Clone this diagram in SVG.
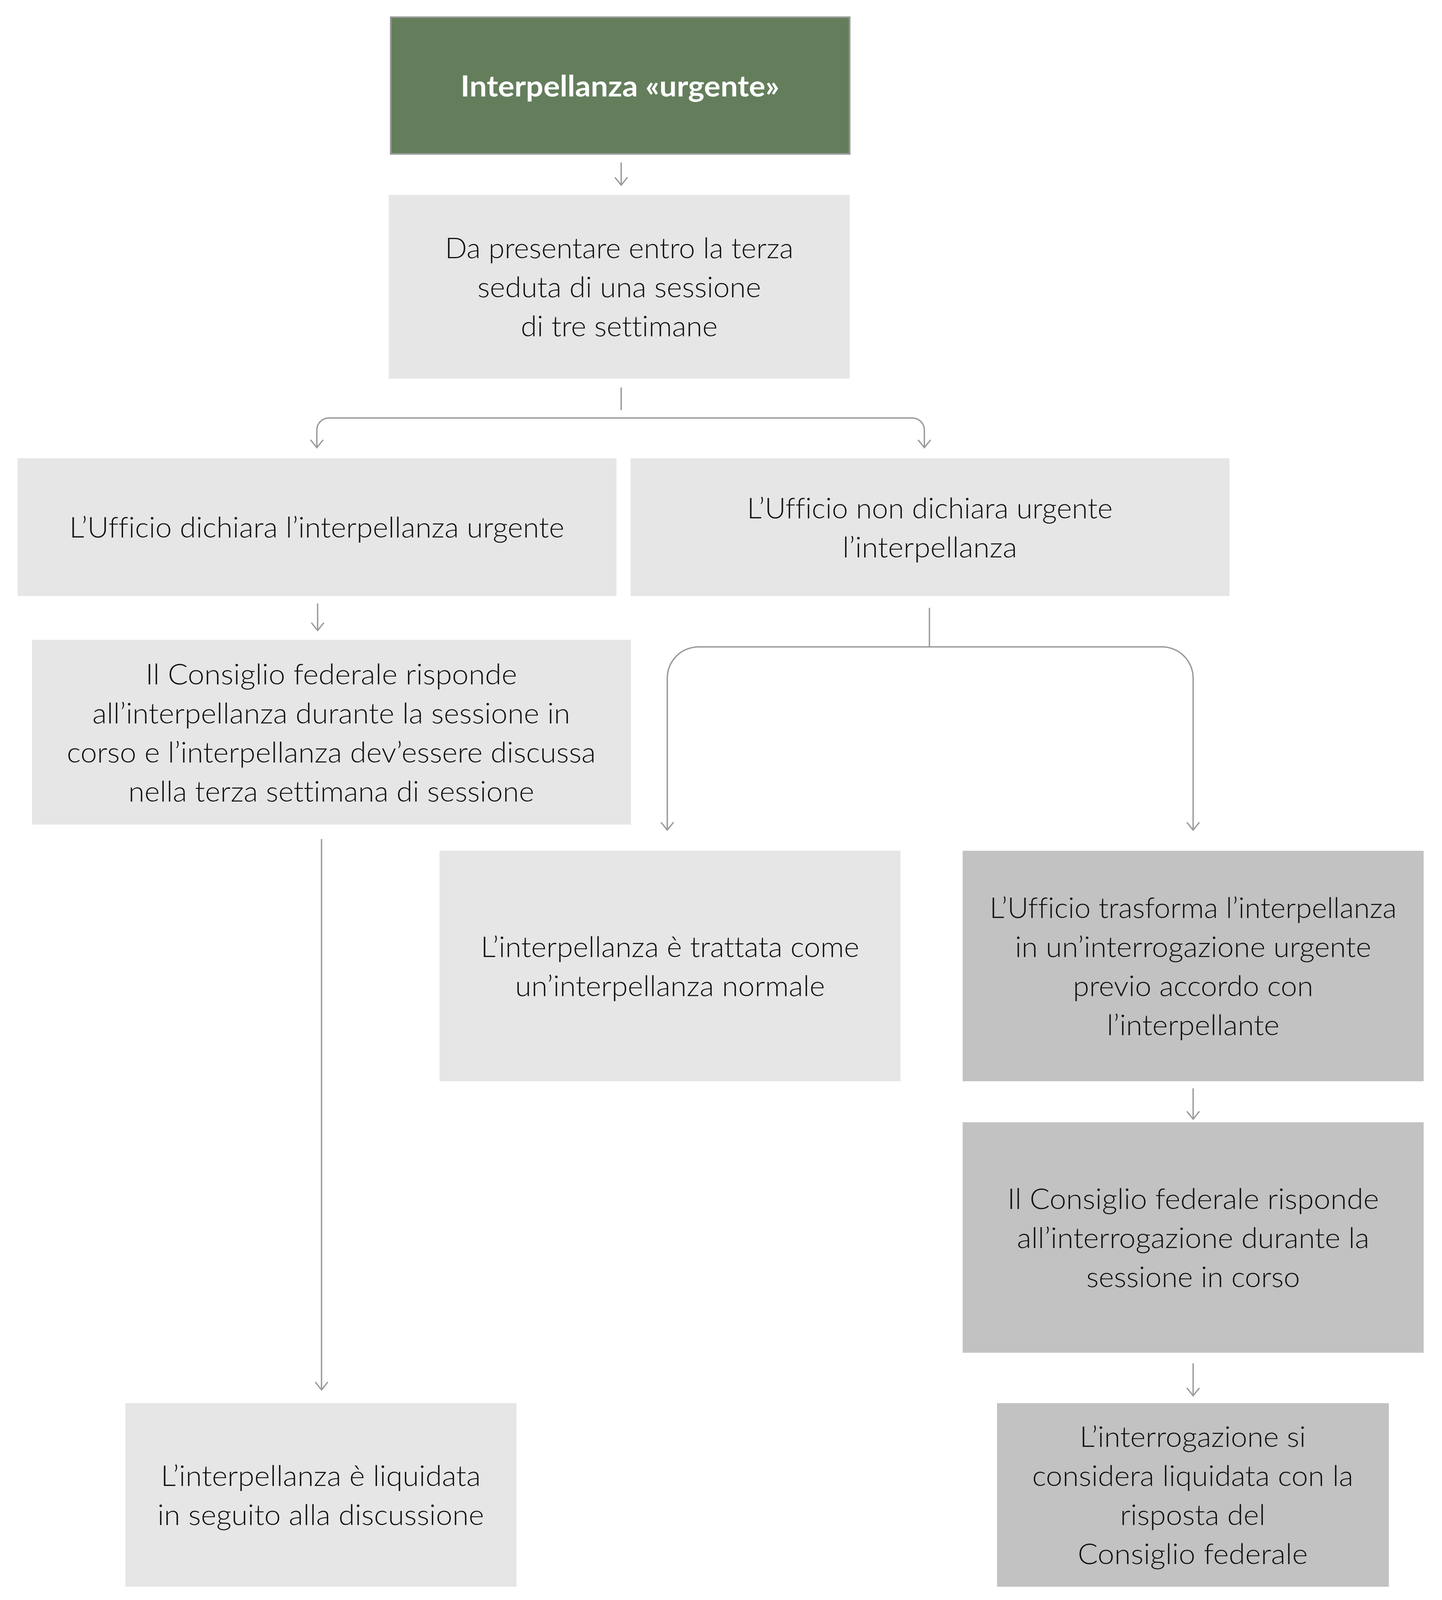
<svg xmlns="http://www.w3.org/2000/svg" width="3691" height="4099" viewBox="0 0 3691 4099">
<defs>
<style>
.t{font-family:Lato,"Noto Sans","Liberation Sans",sans-serif;font-size:72px;font-weight:300;fill:#111;text-anchor:middle;font-variant-ligatures:none}
.b{font-family:Lato,"Noto Sans","Liberation Sans",sans-serif;font-size:74px;font-weight:bold;fill:#fff;text-anchor:middle}
.lt{fill:#e6e6e6}
.dk{fill:#c2c2c2}
.c{fill:none;stroke:#9a9a9a;stroke-width:3.5}
</style>
<marker id="ah" markerUnits="userSpaceOnUse" markerWidth="50" markerHeight="50" viewBox="-25 -25 50 50" refX="0" refY="0" orient="auto">
<path d="M-20,-16 L0,0 L-20,16" fill="none" stroke="#9a9a9a" stroke-width="3.5"/>
</marker>
</defs>
<rect width="3691" height="4099" fill="#fff"/>
<g id="connectors">
<path class="c" d="M1590 416 V474" marker-end="url(#ah)"/>
<path class="c" d="M1590 992 V1050"/>
<path class="c" d="M1590 1070 H842 A31 31 0 0 0 811 1101 V1146" marker-end="url(#ah)"/>
<path class="c" d="M1590 1070 H2335 A31 31 0 0 1 2366 1101 V1146" marker-end="url(#ah)"/>
<path class="c" d="M813 1545 V1614" marker-end="url(#ah)"/>
<path class="c" d="M2379 1556 V1656"/>
<path class="c" d="M2379 1656 H1788 A80 80 0 0 0 1708 1736 V2125" marker-end="url(#ah)"/>
<path class="c" d="M2379 1656 H2974 A80 80 0 0 1 3054 1736 V2125" marker-end="url(#ah)"/>
<path class="c" d="M823 2148 V3558" marker-end="url(#ah)"/>
<path class="c" d="M3054 2786 V2865" marker-end="url(#ah)"/>
<path class="c" d="M3054 3490 V3573" marker-end="url(#ah)"/>
</g>
<g id="n1">
<rect x="1000" y="44" width="1175" height="350" fill="#647e5c" stroke="#9a9a9a" stroke-width="4"/>
<text class="b" x="1587" y="247" textLength="816" lengthAdjust="spacingAndGlyphs">Interpellanza «urgente»</text>
</g>
<g id="n2">
<rect class="lt" x="995" y="499" width="1180" height="470"/>
<text class="t" x="1585" y="661" textLength="892" lengthAdjust="spacingAndGlyphs">Da presentare entro la terza</text>
<text class="t" x="1585" y="761" textLength="726" lengthAdjust="spacingAndGlyphs">seduta di una sessione</text>
<text class="t" x="1585" y="861" textLength="504" lengthAdjust="spacingAndGlyphs">di tre settimane</text>
</g>
<g id="n3">
<rect class="lt" x="45" y="1173" width="1533" height="353"/>
<text class="t" x="811" y="1376" textLength="1267" lengthAdjust="spacingAndGlyphs">L’Ufficio dichiara l’interpellanza urgente</text>
</g>
<g id="n4">
<rect class="lt" x="1614" y="1173" width="1533" height="353"/>
<text class="t" x="2380" y="1327" textLength="936" lengthAdjust="spacingAndGlyphs">L’Ufficio non dichiara urgente</text>
<text class="t" x="2380" y="1427" textLength="447" lengthAdjust="spacingAndGlyphs">l’interpellanza</text>
</g>
<g id="n5">
<rect class="lt" x="82" y="1638" width="1533" height="473"/>
<text class="t" x="848" y="1752" textLength="951" lengthAdjust="spacingAndGlyphs">Il Consiglio federale risponde</text>
<text class="t" x="848" y="1852" textLength="1223" lengthAdjust="spacingAndGlyphs">all’interpellanza durante la sessione in</text>
<text class="t" x="848" y="1952" textLength="1354" lengthAdjust="spacingAndGlyphs">corso e l’interpellanza dev’essere discussa</text>
<text class="t" x="848" y="2052" textLength="1039" lengthAdjust="spacingAndGlyphs">nella terza settimana di sessione</text>
</g>
<g id="n6">
<rect class="lt" x="1125" y="2178" width="1180" height="590"/>
<text class="t" x="1715" y="2450" textLength="969" lengthAdjust="spacingAndGlyphs">L’interpellanza è trattata come</text>
<text class="t" x="1715" y="2550" textLength="793" lengthAdjust="spacingAndGlyphs">un’interpellanza normale</text>
</g>
<g id="n7">
<rect class="dk" x="2464" y="2178" width="1180" height="590"/>
<text class="t" x="3054" y="2350" textLength="1042" lengthAdjust="spacingAndGlyphs">L’Ufficio trasforma l’interpellanza</text>
<text class="t" x="3054" y="2450" textLength="912" lengthAdjust="spacingAndGlyphs">in un’interrogazione urgente</text>
<text class="t" x="3054" y="2550" textLength="615" lengthAdjust="spacingAndGlyphs">previo accordo con</text>
<text class="t" x="3054" y="2650" textLength="442" lengthAdjust="spacingAndGlyphs">l’interpellante</text>
</g>
<g id="n8">
<rect class="dk" x="2464" y="2873" width="1180" height="590"/>
<text class="t" x="3054" y="3095" textLength="951" lengthAdjust="spacingAndGlyphs">Il Consiglio federale risponde</text>
<text class="t" x="3054" y="3195" textLength="902" lengthAdjust="spacingAndGlyphs">all’interrogazione durante la</text>
<text class="t" x="3054" y="3295" textLength="547" lengthAdjust="spacingAndGlyphs">sessione in corso</text>
</g>
<g id="n9">
<rect class="dk" x="2552" y="3592" width="1003" height="470"/>
<text class="t" x="3053" y="3704" textLength="579" lengthAdjust="spacingAndGlyphs">L’interrogazione si</text>
<text class="t" x="3053" y="3804" textLength="822" lengthAdjust="spacingAndGlyphs">considera liquidata con la</text>
<text class="t" x="3053" y="3904" textLength="372" lengthAdjust="spacingAndGlyphs">risposta del</text>
<text class="t" x="3053" y="4004" textLength="589" lengthAdjust="spacingAndGlyphs">Consiglio federale</text>
</g>
<g id="n10">
<rect class="lt" x="321" y="3592" width="1001" height="470"/>
<text class="t" x="821" y="3804" textLength="819" lengthAdjust="spacingAndGlyphs">L’interpellanza è liquidata</text>
<text class="t" x="821" y="3904" textLength="836" lengthAdjust="spacingAndGlyphs">in seguito alla discussione</text>
</g>
</svg>
